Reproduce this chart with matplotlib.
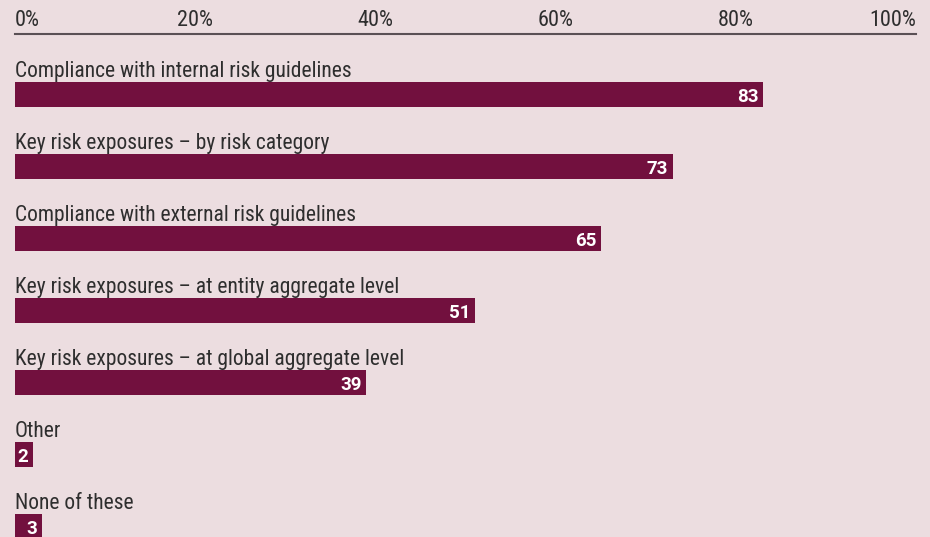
import matplotlib.pyplot as plt

# data
categories = [
    "Compliance with internal risk guidelines",
    "Key risk exposures \u2013 by risk category",
    "Compliance with external risk guidelines",
    "Key risk exposures \u2013 at entity aggregate level",
    "Key risk exposures \u2013 at global aggregate level",
    "Other",
    "None of these",
]
values = [83, 73, 65, 51, 39, 2, 3]
tick_values = [0, 20, 40, 60, 80, 100]
tick_labels = ["0%", "20%", "40%", "60%", "80%", "100%"]

bg = "#ecdde0"
bar_color = "#72103e"
text_color = "#2e2e2e"

plt.rcParams["font.family"] = ["Roboto Condensed", "DejaVu Sans"]

W, H = 930, 537
fig = plt.figure(figsize=(W / 100, H / 100), dpi=100, facecolor=bg)

# axes: x from 15px to 916px, y from axis line (34px) to bottom
left, right, top = 15, 916, 34
ax = fig.add_axes([left / W, 0, (right - left) / W, (H - top) / H])
ax.set_facecolor(bg)

row_px = 72
first_center = 94.5
y_top = -(first_center - top) / row_px
ax.set_xlim(0, 100)
ax.set_ylim(y_top + (H - top) / row_px, y_top)

ypos = list(range(len(values)))
ax.barh(ypos, values, height=25 / row_px, color=bar_color, left=0)

for y, v, name in zip(ypos, values, categories):
    ax.text(0, y - 17.5 / row_px, name, ha="left", va="baseline",
            fontsize=15.5, color=text_color)
    ax.annotate(str(v), xy=(v, y), xytext=(-4.5, -7), textcoords="offset pixels",
                ha="right", va="baseline", fontsize=13.5, fontweight="bold",
                family=["Roboto", "DejaVu Sans"], color="white")

# top axis
for s in ["left", "right", "bottom"]:
    ax.spines[s].set_visible(False)
ax.spines["top"].set_color("#5a5055")
ax.spines["top"].set_linewidth(1.5)
ax.set_yticks([])
ax.xaxis.tick_top()
ax.set_xticks(tick_values)
ax.set_xticklabels(tick_labels, fontsize=16, color=text_color)
ax.tick_params(axis="x", length=0, pad=2.5)
labels = ax.get_xticklabels()
labels[0].set_ha("left")
labels[-1].set_ha("right")

fig.savefig("out.png", dpi=100, facecolor=bg)
